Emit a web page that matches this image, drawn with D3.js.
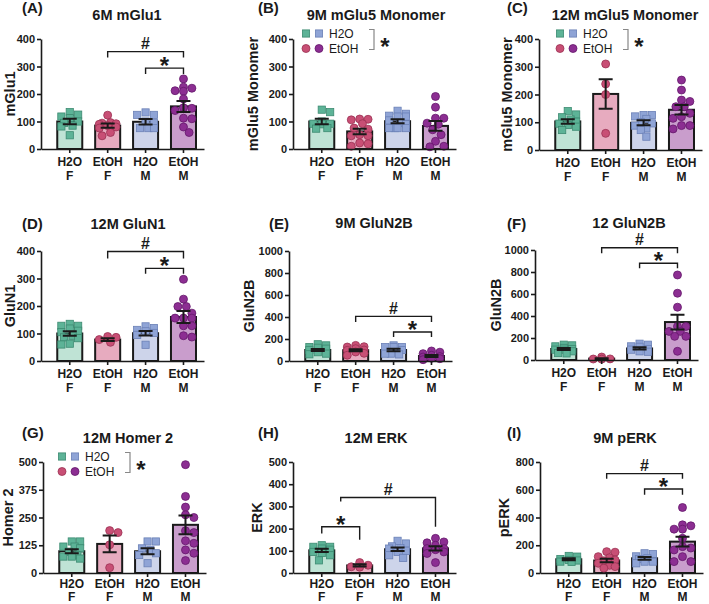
<!DOCTYPE html>
<html>
<head>
<meta charset="utf-8">
<script src="https://cdn.jsdelivr.net/npm/d3@7"></script>
<style>
  body { margin: 0; background: #fff; }
  svg { display: block; font-family: "Liberation Sans", Arial, sans-serif; }
</style>
</head>
<body>
<svg id="fig" width="709" height="604"></svg>
<script>
// x axis groups (two lines each)
const groupTop = ["H2O", "EtOH", "H2O", "EtOH"];
const groupBottom = ["F", "F", "M", "M"];
const barFill = ["#bfe3d5", "#e7abbf", "#cdd4ea", "#c99dcc"];
const dotFill = ["#5db397", "#c84f75", "#8fa4d6", "#8c2e92"];
const dotStroke = ["#3c8a71", "#9b3153", "#6b80b6", "#64186b"];
const dotShape = ["square", "circle", "square", "circle"];

// (A) 6M mGlu1
const meanA = [100, 85, 99, 155];
const semA = [10, 8, 10, 20];
const ptsA = [
    [134, 125, 118, 112, 100, 95, 85, 82, 50],
    [123, 96, 94, 92, 90, 85, 80, 76, 60, 48],
    [133, 124, 124, 100, 95, 76, 76, 76],
    [255, 225, 221, 212, 210, 182, 150, 148, 140, 112, 110, 80, 60]
];
const bracketsA = [[1, 3, 354, 333, 333, "#"], [2, 3, 294, 273, 273, "*"]];

// (B) 9M mGlu5 Monomer
const meanB = [100, 64, 101, 84];
const semB = [10, 10, 7, 18];
const ptsB = [
    [143, 134, 100, 92, 92, 90, 76, 74],
    [109, 108, 106, 92, 76, 72, 52, 48, 48, 22, 19, 10],
    [139, 128, 121, 118, 118, 104, 95, 90, 76, 76, 76, 76],
    [191, 152, 112, 112, 94, 90, 70, 52, 28, 10, 8]
];

// (C) 12M mGlu5 Monomer
const meanC = [103, 202, 98, 145];
const semC = [8, 53, 9, 17];
const ptsC = [
    [140, 128, 118, 110, 102, 95, 90, 84, 72],
    [310, 238, 200, 60],
    [126, 126, 121, 112, 100, 96, 88, 78, 72, 48],
    [252, 216, 180, 175, 156, 156, 132, 120, 114, 88, 88, 76]
];

// (D) 12M GluN1
const meanD = [100, 78, 101, 160];
const semD = [8, 5, 8, 22];
const ptsD = [
    [135, 128, 128, 118, 110, 105, 92, 86, 83, 63, 60],
    [89, 86, 78, 68],
    [126, 120, 113, 108, 102, 95, 59],
    [297, 225, 198, 198, 174, 156, 156, 156, 128, 128, 92, 87]
];
const bracketsD = [[1, 3, 398, 373, 373, "#"], [2, 3, 337, 317, 317, "*"]];

// (E) 9M GluN2B
const meanE = [100, 98, 100, 45];
const semE = [10, 9, 11, 9];
const ptsE = [
    [152, 142, 127, 120, 112, 100, 80, 67, 61],
    [142, 130, 127, 112, 100, 97, 82, 70, 52],
    [142, 127, 127, 127, 100, 67, 67, 60],
    [91, 80, 67, 52, 40, 36, 25, 21, 12]
];
const bracketsE = [[1, 3, 406, 355, 355, "#"], [2, 3, 264, 218, 218, "*"]];

// (F) 12 GluN2B
const meanF = [100, 13, 105, 345];
const semF = [9, 4, 10, 67];
const ptsF = [
    [139, 133, 124, 110, 100, 94, 94, 79, 63, 60],
    [27, 10, 9, 8],
    [148, 139, 124, 120, 100, 94, 79, 75],
    [773, 607, 480, 305, 305, 260, 260, 215, 215, 79]
];
const bracketsF = [[1, 3, 1021, 970, 970, "#"], [2, 3, 879, 834, 834, "*"]];

// (G) 12M Homer 2
const meanG = [98, 131, 98, 217];
const semG = [9, 38, 14, 42];
const ptsG = [
    [142, 142, 119, 119, 111, 96, 80, 74, 74, 65],
    [191, 182, 127, 24],
    [142, 142, 111, 104, 89, 81, 44],
    [488, 345, 297, 262, 250, 190, 182, 145, 134, 104, 89, 56]
];

// (H) 12M ERK
const meanH = [102, 34, 107, 111];
const semH = [7, 5, 8, 10];
const ptsH = [
    [125, 118, 118, 110, 105, 95, 90, 80, 57],
    [47, 35, 28, 26],
    [145, 133, 120, 112, 110, 100, 95, 80, 68],
    [156, 140, 136, 125, 110, 110, 105, 95, 88, 47]
];
const bracketsH = [[0, 1, 208, 178, 150, "*"], [0.5, 3, 340, 322, 208, "#"]];

// (I) 9M pERK
const meanI = [99, 90, 106, 226];
const semI = [7, 13, 10, 35];
const ptsI = [
    [123, 118, 101, 94, 90, 82, 80],
    [154, 150, 118, 110, 94, 88, 70, 55, 46, 35],
    [142, 137, 120, 106, 100, 82, 82, 70],
    [472, 347, 340, 316, 316, 250, 190, 180, 166, 118, 82, 82]
];
const bracketsI = [[1, 3, 716, 680, 680, "#"], [2, 3, 605, 564, 564, "*"]];

const ticks400 = [0, 100, 200, 300, 400];
const ticks1000 = [0, 200, 400, 600, 800, 1000];

const panels = [
    { tag: "(A)", title: "6M mGlu1", ylab: "mGlu1", ticks: ticks400, mean: meanA, sem: semA, pts: ptsA, brackets: bracketsA,
      ax: 41, top: 39, bottom: 149, tx: 127, ty: 20, lx: 22, ly: 13, yl: 15 },
    { tag: "(B)", title: "9M mGlu5 Monomer", ylab: "mGlu5 Monomer", ticks: ticks400, mean: meanB, sem: semB, pts: ptsB, brackets: [],
      ax: 293, top: 39, bottom: 149, tx: 376, ty: 20, lx: 258, ly: 13, yl: 258, legend: 306 },
    { tag: "(C)", title: "12M mGlu5 Monomer", ylab: "mGlu5 Monomer", ticks: ticks400, mean: meanC, sem: semC, pts: ptsC, brackets: [],
      ax: 539, top: 39, bottom: 150, tx: 625, ty: 20, lx: 507, ly: 13, yl: 512, legend: 560 },
    { tag: "(D)", title: "12M GluN1", ylab: "GluN1", ticks: ticks400, mean: meanD, sem: semD, pts: ptsD, brackets: bracketsD,
      ax: 41, top: 251, bottom: 361, tx: 128, ty: 229, lx: 22, ly: 229, yl: 15 },
    { tag: "(E)", title: "9M GluN2B", ylab: "GluN2B", ticks: ticks1000, mean: meanE, sem: semE, pts: ptsE, brackets: bracketsE,
      ax: 289, top: 251, bottom: 361, tx: 374, ty: 228, lx: 269, ly: 229, yl: 254 },
    { tag: "(F)", title: "12 GluN2B", ylab: "GluN2B", ticks: ticks1000, mean: meanF, sem: semF, pts: ptsF, brackets: bracketsF,
      ax: 535, top: 250, bottom: 360, tx: 629, ty: 228, lx: 507, ly: 229, yl: 501 },
    { tag: "(G)", title: "12M Homer 2", ylab: "Homer 2", ticks: [0, 125, 250, 375, 500], mean: meanG, sem: semG, pts: ptsG, brackets: [],
      ax: 43, top: 462, bottom: 573, tx: 128, ty: 443, lx: 22, ly: 438, yl: 13, legend: 62, labY: 14.5 },
    { tag: "(H)", title: "12M ERK", ylab: "ERK", ticks: [0, 100, 200, 300, 400, 500], mean: meanH, sem: semH, pts: ptsH, brackets: bracketsH,
      ax: 293, top: 462, bottom: 573, tx: 376, ty: 443, lx: 258, ly: 438, yl: 262, labY: 14.5 },
    { tag: "(I)", title: "9M pERK", ylab: "pERK", ticks: [0, 200, 400, 600, 800], mean: meanI, sem: semI, pts: ptsI, brackets: bracketsI,
      ax: 540, top: 462, bottom: 573, tx: 625, ty: 443, lx: 507, ly: 438, yl: 509, labY: 14.5 }
];

const svg = d3.select("#fig");
const ink = "#1a1a1a";
const R = 4;

// spread the dots sideways so they don't sit on top of each other
function swarm(vals, y, maxOff) {
    const placed = [];
    const off = vals.map(() => 0);
    const order = d3.range(vals.length).sort((a, b) => vals[b] - vals[a]);
    const minD = 2 * R * 0.95;
    order.forEach(i => {
        const py = y(vals[i]);
        let best = 0, bestCost = Infinity;
        for (let k = 0; k <= 10; k++) {
            for (const s of (k === 0 ? [0] : [1, -1])) {
                const o = s * k * R * 0.7;
                if (Math.abs(o) > maxOff) continue;
                let cost = 0;
                placed.forEach(p => {
                    const dd = Math.hypot(p[0] - o, p[1] - py);
                    if (dd < minD) cost += minD - dd;
                });
                if (cost < bestCost - 0.01) { bestCost = cost; best = o; }
            }
            if (bestCost === 0) break;
        }
        off[i] = best;
        placed.push([best, py]);
    });
    return off;
}

panels.forEach(p => {
    const g = svg.append("g");
    const ymax = d3.max(p.ticks);
    const y = d3.scaleLinear().domain([0, ymax]).range([p.bottom, p.top]);
    const x = d3.scaleBand().domain([0, 1, 2, 3])
        .range([p.ax, p.ax + 163])
        .paddingInner(0.34).paddingOuter(0.32).align(0.67);
    const cx = i => x(0) + x.bandwidth() / 2 + i * x.step();

    // panel tag and title
    g.append("text").attr("x", p.lx).attr("y", p.ly)
        .attr("font-size", 15).attr("font-weight", "bold").attr("fill", ink)
        .text(p.tag);
    g.append("text").attr("x", p.tx).attr("y", p.ty)
        .attr("text-anchor", "middle")
        .attr("font-size", 14.5).attr("font-weight", "bold").attr("fill", ink)
        .text(p.title);

    // y label
    g.append("text")
        .attr("transform", `translate(${p.yl},${(p.top + p.bottom) / 2}) rotate(-90)`)
        .attr("text-anchor", "middle")
        .attr("font-size", 14.5).attr("font-weight", "bold").attr("fill", ink)
        .text(p.ylab);

    // bars
    g.selectAll(".bar")
        .data(p.mean)
        .join("rect")
        .attr("class", "bar")
        .attr("x", (d, i) => x(i))
        .attr("width", x.bandwidth())
        .attr("y", d => y(d))
        .attr("height", d => p.bottom - y(d))
        .attr("fill", (d, i) => barFill[i])
        .attr("stroke", ink)
        .attr("stroke-width", 2);

    // dots
    p.pts.forEach((vals, i) => {
        const off = swarm(vals, y, x.bandwidth() / 2 - 1.5);
        const dots = g.append("g");
        vals.forEach((v, j) => {
            const px = cx(i) + off[j], py = y(v);
            if (dotShape[i] === "square") {
                dots.append("rect")
                    .attr("x", px - 3.6).attr("y", py - 3.6)
                    .attr("width", 7.2).attr("height", 7.2);
            } else {
                dots.append("circle").attr("cx", px).attr("cy", py).attr("r", R);
            }
        });
        dots.selectAll("*")
            .attr("fill", dotFill[i])
            .attr("stroke", dotStroke[i])
            .attr("stroke-width", 0.8);
    });

    // mean +/- sem
    p.mean.forEach((m, i) => {
        const c = cx(i), y1 = y(m + p.sem[i]), y0 = y(m - p.sem[i]);
        g.append("path")
            .attr("d", `M${c},${y0}V${y1}M${c - 7},${y1}H${c + 7}M${c - 7},${y0}H${c + 7}`)
            .attr("fill", "none").attr("stroke", ink).attr("stroke-width", 2);
    });

    // axes
    const yAxis = g.append("g")
        .attr("transform", `translate(${p.ax},0)`)
        .call(d3.axisLeft(y).tickValues(p.ticks).tickFormat(d3.format("d"))
            .tickSize(4).tickSizeOuter(0).tickPadding(2));
    const xAxis = g.append("g")
        .attr("transform", `translate(0,${p.bottom})`)
        .call(d3.axisBottom(x).tickSize(4).tickSizeOuter(0).tickFormat(""));
    // two-line group labels
    const lab = xAxis.selectAll(".tick text").attr("y", p.labY || 17).attr("dy", null);
    lab.append("tspan").attr("x", 0).text(i => groupTop[i]);
    lab.append("tspan").attr("x", 0).attr("dy", 13.5).text(i => groupBottom[i]);
    [yAxis, xAxis].forEach(a => {
        a.selectAll("path, line").attr("stroke", ink).attr("stroke-width", 1.6);
        a.selectAll("text").attr("font-family", null).attr("font-weight", "bold").attr("fill", ink);
    });
    yAxis.selectAll("text").attr("font-size", 11);
    xAxis.selectAll("text").attr("font-size", 12);

    // significance brackets
    p.brackets.forEach(b => {
        const x1 = cx(b[0]), x2 = cx(b[1]), yl = y(b[2]);
        g.append("path")
            .attr("d", `M${x1},${y(b[3])}V${yl}H${x2}V${y(b[4])}`)
            .attr("fill", "none").attr("stroke", ink).attr("stroke-width", 1.4);
        const star = b[5] === "*";
        const fs = star ? 24 : 16;
        g.append("text")
            .attr("x", (x1 + x2) / 2)
            .attr("y", yl - 8 + (star ? 0.575 : 0.36) * fs)
            .attr("text-anchor", "middle")
            .attr("font-size", fs).attr("font-weight", "bold").attr("fill", ink)
            .text(b[5]);
    });

    // legend (H2O squares / EtOH circles) with main-effect star
    if (p.legend) {
        const lx = p.legend, r1 = p.top - 5.5, r2 = p.top + 9.5;
        const lg = g.append("g");
        [0, 2].forEach((k, n) => {
            lg.append("rect").attr("x", lx + n * 13 - 3.6).attr("y", r1 - 3.6)
                .attr("width", 7.2).attr("height", 7.2)
                .attr("fill", dotFill[k]).attr("stroke", dotStroke[k]).attr("stroke-width", 0.8);
        });
        [1, 3].forEach((k, n) => {
            lg.append("circle").attr("cx", lx + n * 13).attr("cy", r2).attr("r", R)
                .attr("fill", dotFill[k]).attr("stroke", dotStroke[k]).attr("stroke-width", 0.8);
        });
        lg.append("text").attr("x", lx + 23).attr("y", r1 + 4.3)
            .attr("font-size", 12).attr("fill", ink).text("H2O");
        lg.append("text").attr("x", lx + 23).attr("y", r2 + 4.3)
            .attr("font-size", 12).attr("fill", ink).text("EtOH");
        const bx = lx + 68;
        lg.append("path")
            .attr("d", `M${bx - 5},${r1 - 4}H${bx}V${r2 + 1}H${bx - 5}`)
            .attr("fill", "none").attr("stroke", "#888").attr("stroke-width", 1.2);
        lg.append("text").attr("x", bx + 11).attr("y", (r1 + r2) / 2 + 0.575 * 24)
            .attr("text-anchor", "middle")
            .attr("font-size", 24).attr("font-weight", "bold").attr("fill", ink)
            .text("*");
    }
});
</script>
</body>
</html>
